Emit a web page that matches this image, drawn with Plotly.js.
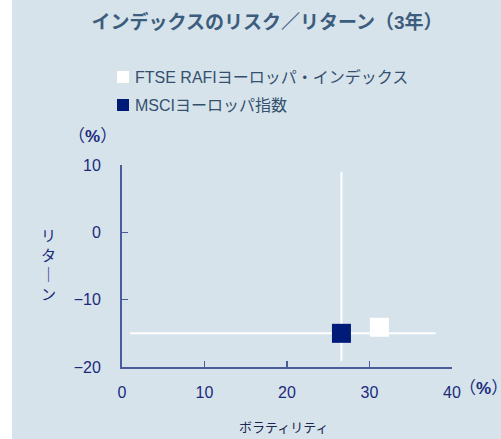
<!DOCTYPE html>
<html>
<head>
<meta charset="utf-8">
<script src="https://cdn.plot.ly/plotly-3.0.1.min.js"></script>
<style>
html,body{margin:0;padding:0;background:#ffffff;}
#chart{position:absolute;left:12px;top:0;width:489px;height:439px;}
</style>
</head>
<body>
<div id="chart"></div>
<script>
// Data
const seriesNames = ["FTSE RAFIヨーロッパ・インデックス", "MSCIヨーロッパ指数"];
const volatility = [31.2, 26.6];   // x: ボラティリティ (%)
const returns = [-14.1, -15.0];    // y: リターン (%)
const seriesColors = ["#ffffff", "#001a78"];
// crosshair reference lines (through benchmark)
const hLineX = [1, 38];
const hLineY = [-15, -15];
const vLineX = [26.6, 26.6];
const vLineY = [-19.1, 9];
const xTicks = [0, 10, 20, 30, 40];
const yTicks = [-20, -10, 0, 10];

const FONT = "Liberation Sans, Arial, Noto Sans CJK JP, sans-serif";
const NAVY = "#1c2a7c";
const AXIS = "#4a5c9c";

const traces = [
  {x: hLineX, y: hLineY, mode: "lines", line: {color: "#ffffff", width: 2}, showlegend: false, hoverinfo: "skip"},
  {x: vLineX, y: vLineY, mode: "lines", line: {color: "#ffffff", width: 2}, showlegend: false, hoverinfo: "skip"},
  {x: [volatility[1]], y: [returns[1]], mode: "markers", name: seriesNames[1],
   marker: {symbol: "square", size: 19, color: seriesColors[1], line: {width: 0}}, showlegend: false, cliponaxis: false},
  {x: [volatility[0]], y: [returns[0]], mode: "markers", name: seriesNames[0],
   marker: {symbol: "square", size: 19, color: seriesColors[0], line: {width: 0}}, showlegend: false, cliponaxis: false}
];

// pixel helpers (window coords -> paper)
const px = wx => (wx - 122) / 330;
const py = wy => (367 - wy) / 202;

const layout = {
  width: 489, height: 439,
  margin: {l: 110, r: 49, t: 165, b: 72},
  paper_bgcolor: "#d6e3eb",
  plot_bgcolor: "#d6e3eb",
  showlegend: false,
  font: {family: FONT, color: NAVY},
  title: {
    text: "インデックスのリスク／リターン（3年）",
    font: {family: FONT, size: 19, color: "#3d5d7e", weight: "bold"},
    x: 255/489, xref: "container", xanchor: "center",
    y: 1 - 22/439, yref: "container", yanchor: "middle"
  },
  xaxis: {
    range: [0, 40], tickvals: xTicks, ticktext: xTicks.map(String),
    showgrid: false, zeroline: false, showline: true, linecolor: AXIS, linewidth: 2,
    ticks: "inside", ticklen: 6, tickwidth: 1.5, tickcolor: AXIS,
    tickfont: {family: FONT, size: 16, color: NAVY},
    ticklabelstandoff: 10, fixedrange: true
  },
  yaxis: {
    range: [-20, 10], tickvals: yTicks, ticktext: yTicks.map(v => v < 0 ? "−" + Math.abs(v) : String(v)),
    showgrid: false, zeroline: false, showline: true, linecolor: AXIS, linewidth: 2,
    ticks: "inside", ticklen: 6, tickwidth: 1.5, tickcolor: AXIS,
    tickfont: {family: FONT, size: 16, color: NAVY},
    ticklabelstandoff: 16, fixedrange: true
  },
  shapes: [
    {type: "rect", xref: "paper", yref: "paper", x0: px(117), x1: px(129), y0: py(83), y1: py(71),
     fillcolor: seriesColors[0], line: {width: 0}},
    {type: "rect", xref: "paper", yref: "paper", x0: px(117), x1: px(129), y0: py(111), y1: py(99),
     fillcolor: seriesColors[1], line: {width: 0}}
  ],
  annotations: [
    {text: seriesNames[0], xref: "paper", yref: "paper", x: px(133), y: py(77), xanchor: "left", yanchor: "middle",
     showarrow: false, font: {family: FONT, size: 16, color: "#34506e"}},
    {text: seriesNames[1], xref: "paper", yref: "paper", x: px(133), y: py(105), xanchor: "left", yanchor: "middle",
     showarrow: false, font: {family: FONT, size: 16, color: "#34506e"}},
    {text: "（<b>%</b>）", xref: "paper", yref: "paper", x: px(92), y: py(136), xanchor: "center", yanchor: "middle",
     showarrow: false, font: {family: FONT, size: 17, color: NAVY}},
    {text: "（<b>%</b>）", xref: "paper", yref: "paper", x: px(457), y: py(388), xanchor: "left", yanchor: "middle",
     showarrow: false, font: {family: FONT, size: 17, color: NAVY}},
    {text: "ボラティリティ", xref: "paper", yref: "paper", x: px(283), y: py(427), xanchor: "center", yanchor: "middle",
     showarrow: false, font: {family: FONT, size: 13, color: "#1a2550"}},
    {text: "リ<br>タ<br>｜<br>ン", xref: "paper", yref: "paper", x: px(48), y: py(265), xanchor: "center", yanchor: "middle",
     showarrow: false, font: {family: FONT, size: 15, color: NAVY}}
  ]
};

Plotly.newPlot("chart", traces, layout, {displayModeBar: false, staticPlot: true});
</script>
</body>
</html>
